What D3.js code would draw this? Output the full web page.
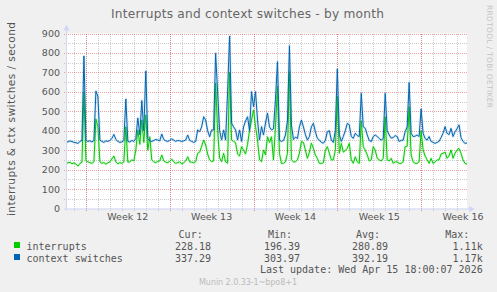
<!DOCTYPE html>
<html>
<head>
<meta charset="utf-8">
<script src="https://cdn.jsdelivr.net/npm/d3@7"></script>
<style>
	body { margin: 0; background: #f0f0f0; }
	svg { display: block; }
</style>
</head>
<body>
<div id="container"></div>
<script>
// 4-hourly samples, starting Mar 14 08:00
const sampleStart = Date.UTC(2026, 2, 14, 8);
const sampleStep = 4 * 3600 * 1000;

const ctxSwitches = [
	345, 342, 348, 344, 340, 338, 335, 345, 350, 784,
	350, 345, 348, 342, 350, 604, 575, 352, 345, 340,
	348, 345, 350, 360, 381, 355, 345, 340, 342, 350,
	563, 345, 342, 350, 345, 360, 465, 380, 555, 400,
	707, 360, 348, 345, 350, 355, 352, 348, 383, 355,
	348, 345, 350, 358, 352, 345, 350, 348, 345, 348,
	352, 378, 350, 345, 340, 345, 404, 395, 420, 472,
	455, 400, 369, 404, 404, 798, 600, 400, 352, 404,
	352, 600, 887, 439, 420, 404, 352, 404, 345, 420,
	450, 472, 400, 601, 524, 601, 455, 352, 421, 378,
	440, 490, 420, 404, 410, 560, 755, 352, 345, 350,
	378, 450, 837, 430, 355, 367, 360, 420, 455, 420,
	380, 352, 370, 420, 438, 395, 360, 352, 340, 336,
	350, 395, 400, 352, 340, 400, 717, 380, 345, 370,
	400, 438, 430, 370, 361, 387, 375, 370, 592, 420,
	412, 378, 350, 344, 370, 378, 370, 360, 352, 360,
	592, 400, 378, 362, 365, 375, 370, 345, 350, 352,
	395, 420, 647, 387, 370, 372, 378, 370, 512, 387,
	360, 352, 370, 345, 340, 335, 340, 345, 365, 387,
	421, 387, 380, 412, 370, 395, 410, 430, 365, 345,
	335, 337,
];

const interrupts = [
	232, 235, 238, 230, 235, 228, 218, 232, 238, 600,
	245, 240, 236, 232, 240, 460, 420, 240, 232, 236,
	228, 235, 240, 255, 270, 240, 230, 236, 232, 240,
	420, 238, 240, 250, 245, 300, 404, 330, 455, 340,
	480, 300, 369, 250, 240, 236, 242, 245, 275, 245,
	238, 236, 242, 254, 240, 232, 236, 240, 230, 235,
	245, 266, 240, 238, 235, 241, 284, 290, 320, 352,
	327, 280, 250, 241, 245, 644, 400, 260, 241, 284,
	240, 233, 700, 352, 345, 338, 280, 270, 318, 300,
	280, 330, 400, 455, 507, 421, 352, 250, 241, 301,
	275, 369, 340, 369, 250, 420, 627, 284, 232, 232,
	240, 284, 704, 250, 240, 240, 250, 284, 344, 340,
	301, 258, 290, 336, 310, 275, 258, 232, 232, 235,
	300, 318, 284, 250, 250, 300, 575, 284, 335, 290,
	298, 310, 335, 250, 232, 266, 240, 232, 450, 318,
	300, 275, 245, 250, 318, 300, 258, 250, 245, 258,
	470, 250, 245, 258, 232, 240, 240, 232, 232, 240,
	318, 320, 523, 275, 240, 232, 232, 240, 400, 301,
	270, 250, 232, 258, 232, 240, 250, 250, 280, 284,
	290, 258, 270, 301, 258, 284, 301, 309, 284, 250,
	232, 228,
];

const yTicks = [0, 100, 200, 300, 400, 500, 600, 700, 800, 900];
const legendHeaders = ["Cur:", "Min:", "Avg:", "Max:"];
const legendRows = [
	{ name: "interrupts", color: "#00cc00", values: ["228.18", "196.39", "280.89", "1.11k"] },
	{ name: "context switches", color: "#0066b3", values: ["337.29", "303.97", "392.19", "1.17k"] },
];

const width = 497;
const height = 292;
const plot = { left: 66, right: 467, top: 33.5, bottom: 208.5 };

const x = d3.scaleUtc(
	[new Date(sampleStart), new Date(sampleStart + 201 * sampleStep)],
	[plot.left, plot.right]
);
const y = d3.scaleLinear([0, 900], [plot.bottom, plot.top]);

const svg = d3
	.select("#container")
	.append("svg")
	.attr("width", width)
	.attr("height", height)
	.style("font-family", "'DejaVu Sans', sans-serif");

svg.append("rect").attr("width", width).attr("height", height).attr("fill", "#f0f0f0");
svg
	.append("rect")
	.attr("x", plot.left)
	.attr("y", plot.top)
	.attr("width", plot.right - plot.left)
	.attr("height", plot.bottom - plot.top)
	.attr("fill", "#ffffff");

// grid
const grid = svg.append("g").attr("shape-rendering", "crispEdges");
const minorColor = "rgba(140,140,140,0.45)";
const majorColor = "rgba(220,50,50,0.45)";

const days = d3.utcDay.range(x.domain()[0], x.domain()[1]);
const mondays = d3.utcMonday.range(x.domain()[0], x.domain()[1]);

grid
	.selectAll("line.vminor")
	.data(days)
	.join("line")
	.attr("x1", (d) => Math.round(x(d)) + 0.5)
	.attr("x2", (d) => Math.round(x(d)) + 0.5)
	.attr("y1", plot.top)
	.attr("y2", plot.bottom + 2)
	.attr("stroke", minorColor)
	.attr("stroke-dasharray", "1,1");

grid
	.selectAll("line.hminor")
	.data(d3.range(50, 900, 100))
	.join("line")
	.attr("x1", plot.left - 2)
	.attr("x2", plot.right)
	.attr("y1", (d) => Math.round(y(d)) + 0.5)
	.attr("y2", (d) => Math.round(y(d)) + 0.5)
	.attr("stroke", minorColor)
	.attr("stroke-dasharray", "1,1");

grid
	.selectAll("line.vmajor")
	.data(mondays)
	.join("line")
	.attr("x1", (d) => Math.round(x(d)) + 0.5)
	.attr("x2", (d) => Math.round(x(d)) + 0.5)
	.attr("y1", plot.top)
	.attr("y2", plot.bottom + 3)
	.attr("stroke", majorColor)
	.attr("stroke-dasharray", "1,1");

grid
	.selectAll("line.hmajor")
	.data(yTicks.slice(1))
	.join("line")
	.attr("x1", plot.left - 2)
	.attr("x2", plot.right)
	.attr("y1", (d) => Math.round(y(d)) + 0.5)
	.attr("y2", (d) => Math.round(y(d)) + 0.5)
	.attr("stroke", majorColor)
	.attr("stroke-dasharray", "1,1");

// series
function toPoints(values) {
	return values.map((v, i) => ({ t: new Date(sampleStart + i * sampleStep), v }));
}
const line = d3
	.line()
	.x((d) => x(d.t))
	.y((d) => y(d.v));

const seriesG = svg.append("g");
for (const row of [
	{ values: interrupts, color: "#00cc00" },
	{ values: ctxSwitches, color: "#0066b3" },
]) {
	const pts = toPoints(row.values);
	seriesG
		.append("path")
		.attr("d", line(pts))
		.attr("fill", "none")
		.attr("stroke", row.color)
		.attr("stroke-opacity", 0.15)
		.attr("stroke-width", 2.6)
		.attr("stroke-linejoin", "round");
	seriesG
		.append("path")
		.attr("d", line(pts))
		.attr("fill", "none")
		.attr("stroke", row.color)
		.attr("stroke-width", 1)
		.attr("stroke-linejoin", "round");
}

// axes
const axisColor = "#cfd6f8";
svg
	.append("line")
	.attr("x1", plot.left + 0.5)
	.attr("x2", plot.left + 0.5)
	.attr("y1", plot.bottom + 2)
	.attr("y2", plot.top - 4)
	.attr("stroke", axisColor);
svg
	.append("line")
	.attr("x1", plot.left - 2)
	.attr("x2", plot.right + 3)
	.attr("y1", plot.bottom + 0.5)
	.attr("y2", plot.bottom + 0.5)
	.attr("stroke", axisColor);
svg
	.append("path")
	.attr("d", `M${plot.left - 2.5},${plot.top - 3}L${plot.left + 0.5},${plot.top - 9}L${plot.left + 3.5},${plot.top - 3}Z`)
	.attr("fill", axisColor);
svg
	.append("path")
	.attr("d", `M${plot.right + 2},${plot.bottom - 2.5}L${plot.right + 8},${plot.bottom + 0.5}L${plot.right + 2},${plot.bottom + 3.5}Z`)
	.attr("fill", axisColor);

const textColor = "#555555";

svg
	.append("g")
	.selectAll("text")
	.data(yTicks)
	.join("text")
	.attr("x", 60)
	.attr("y", (d) => y(d) + 3.5)
	.attr("text-anchor", "end")
	.attr("font-size", 9.5)
	.attr("fill", textColor)
	.text((d) => d);

const weekFormat = d3.utcFormat("Week %V");
svg
	.append("g")
	.selectAll("text")
	.data(mondays)
	.join("text")
	.attr("x", (d) => x(d3.utcHour.offset(d, 84)))
	.attr("y", 220)
	.attr("text-anchor", "middle")
	.attr("font-size", 9.5)
	.attr("fill", textColor)
	.text((d) => weekFormat(d));

// titles
svg
	.append("text")
	.attr("x", 247.5)
	.attr("y", 18)
	.attr("text-anchor", "middle")
	.attr("font-size", 12.2)
	.attr("textLength", 273)
	.attr("lengthAdjust", "spacing")
	.attr("fill", "#666666")
	.text("Interrupts and context switches - by month");

svg
	.append("text")
	.attr("transform", "translate(15,119) rotate(-90)")
	.attr("text-anchor", "middle")
	.attr("font-size", 10.5)
	.attr("textLength", 194)
	.attr("lengthAdjust", "spacing")
	.attr("fill", textColor)
	.text("interrupts & ctx switches / second");

svg
	.append("text")
	.attr("transform", "translate(487,5) rotate(90)")
	.attr("font-size", 7.5)
	.attr("textLength", 103)
	.attr("lengthAdjust", "spacing")
	.attr("fill", "#c4c4c4")
	.text("RRDTOOL / TOBI OETIKER");

// legend
const legend = svg
	.append("g")
	.style("font-family", "'DejaVu Sans Mono', monospace")
	.attr("font-size", 10)
	.attr("fill", textColor);

const headerX = [202.7, 292, 380, 469.3];
const valueX = [211, 300, 388, 482.7];

legend
	.selectAll("text.head")
	.data(legendHeaders)
	.join("text")
	.attr("x", (d, i) => headerX[i])
	.attr("y", 237.5)
	.attr("text-anchor", "end")
	.text((d) => d);

legendRows.forEach((row, r) => {
	const by = 249.5 + r * 12;
	legend
		.append("rect")
		.attr("x", 14)
		.attr("y", by - 7.5)
		.attr("width", 6)
		.attr("height", 6)
		.attr("fill", row.color);
	legend.append("text").attr("x", 26.5).attr("y", by).text(row.name);
	row.values.forEach((v, i) => {
		legend
			.append("text")
			.attr("x", valueX[i])
			.attr("y", by)
			.attr("text-anchor", "end")
			.text(v);
	});
});

legend
	.append("text")
	.attr("x", 482.7)
	.attr("y", 273)
	.attr("text-anchor", "end")
	.text("Last update: Wed Apr 15 18:00:07 2026");

svg
	.append("text")
	.attr("x", 248)
	.attr("y", 285)
	.attr("text-anchor", "middle")
	.attr("font-size", 8)
	.attr("textLength", 98)
	.attr("lengthAdjust", "spacing")
	.attr("fill", "#bbbbbb")
	.text("Munin 2.0.33-1~bpo8+1");
</script>
</body>
</html>
